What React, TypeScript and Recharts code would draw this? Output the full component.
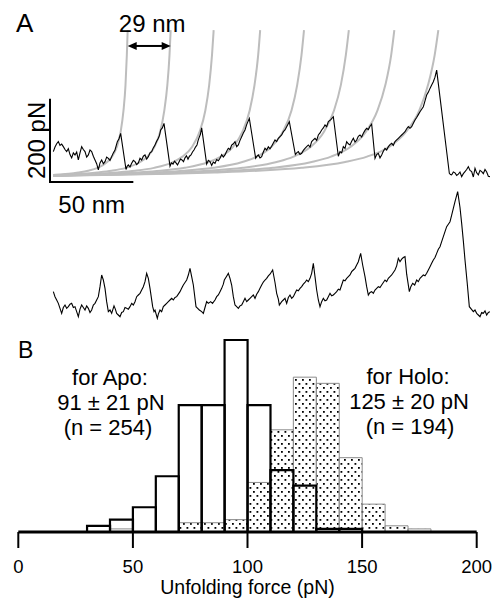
import { Bar, ComposedChart, Line, LineChart, ReferenceLine, XAxis, YAxis } from "recharts"

const FONT = "'Liberation Sans', Arial, Helvetica, sans-serif"

type Pt = [number, number]

// Panel A, upper trace: extension (nm), force (pN)
const traceTop: Pt[] = [
  [2, 73], [3, 84], [4, 92], [5, 97], [6, 88], [7, 91], [8, 85], [9, 78], [10, 73], [11, 80], [12, 66], [13, 58], [14, 70], [15, 65],
  [16, 72], [17, 53], [18, 70], [19, 85], [20, 78], [21, 73], [22, 60], [23, 65], [24, 77], [25, 73], [26, 62], [27, 53], [28, 44],
  [29, 29], [30, 46], [31, 53], [32, 44], [33, 49], [34, 60], [35, 57], [36, 52], [37, 61], [38, 70], [39, 77], [40.4, 97], [41.4, 104],
  [42.4, 117],
  [45.6, 30], [46.3, 38], [47, 41], [48, 36], [49, 45], [50, 52], [51, 49], [52, 42], [53, 46], [54, 57], [55, 53], [56, 62], [57, 65],
  [58, 55], [59, 61], [60, 70], [61, 73], [62, 82], [63, 89], [64, 98], [65, 105], [65.7, 112], [66.4, 125], [67.4, 130], [68.4, 141],
  [72, 38], [72.9, 46], [73.8, 43], [74.7, 50], [75.6, 46], [76.5, 41], [77.4, 48], [78.3, 55], [79.2, 53], [80.1, 49], [81, 58],
  [81.9, 63], [82.8, 55], [83.7, 62], [84.6, 65], [85.5, 72], [86.4, 77], [87.3, 84], [88.2, 89], [88.8, 99], [89.4, 106], [90.2, 114],
  [91, 130],
  [94, 43], [95, 52], [96, 49], [97, 40], [98, 48], [99, 45], [100, 54], [101, 51], [102, 57], [103, 66], [104, 60], [105, 65], [106, 74],
  [107, 81], [108, 78], [109, 89], [110, 92], [111, 97], [112, 85], [113, 89], [114, 100], [115, 109], [116, 118], [117, 125], [118, 138],
  [119.6, 153],
  [123.4, 57], [124.2, 62], [125, 65], [126, 58], [127, 61], [128, 72], [129, 81], [130, 77], [131, 85], [132, 80], [133, 86], [134, 94],
  [135, 101], [136, 97], [137, 105], [138, 109], [139, 113], [140, 121], [141, 125], [142, 133], [143.6, 145],
  [147.2, 66], [148, 70], [149, 73], [150, 66], [151, 69], [152, 76], [153, 81], [154, 85], [155, 89], [156, 84], [157, 97], [158, 101],
  [159, 105], [160, 100], [161, 113], [162, 118], [163, 125], [164, 130], [165, 137], [166, 133], [167, 145], [168.5, 150], [170, 157],
  [173, 62], [174, 73], [175, 70], [176, 85], [177, 81], [178, 97], [179, 92], [180, 89], [181, 98], [182, 105], [183, 96], [184, 101],
  [185, 110], [186, 113], [187, 108], [188, 117], [189, 124], [190, 129], [191, 126], [192, 134], [193, 139],
  [195, 57], [196, 66], [197, 69], [198, 58], [199, 65], [200, 74], [201, 81], [202, 77], [203, 85], [204, 90], [205, 93], [206, 88],
  [207, 97], [208, 101], [209, 105], [210, 109], [211, 113], [212, 117], [213, 121], [214, 128], [215, 133], [216, 129], [217, 133],
  [218, 141], [219, 149], [220, 155], [221, 162], [222, 169], [223, 175], [224, 181], [225, 195], [226, 209], [227, 216], [228, 225],
  [229, 233], [230, 241], [231, 252], [232, 269],
  [239.6, 21], [240.3, 18], [241, 17], [242, 24], [243, 22], [244, 16], [245, 19], [246, 24], [247, 13], [248, 20], [249, 25], [250, 30],
  [251, 37], [252, 28], [253, 25], [254, 12], [255, 33], [256, 22], [257, 17], [258, 28], [259, 25], [260, 20], [261, 30], [262, 24],
  [263, 14], [264, 13],
]

// Panel A, worm-like-chain fits (grey), one per unfolding event
const wlc1: Pt[] = [[2, 17], [5.5, 18], [11.3, 20], [17.0, 23], [22.8, 27], [28.6, 34], [34.3, 48], [37.2, 61], [40.1, 84], [42.4, 121], [44.1, 172], [45.3, 233], [46.1, 305], [46.6, 365]]
const wlc2: Pt[] = [[2, 16], [11.2, 18], [19.7, 20], [28.3, 23], [36.9, 27], [45.5, 34], [54.1, 48], [58.4, 61], [62.6, 84], [66.1, 121], [68.6, 172], [70.4, 233], [71.7, 305], [72.4, 365]]
const wlc3: Pt[] = [[2, 15], [16.8, 18], [28.2, 20], [39.6, 23], [51.0, 27], [62.4, 34], [73.8, 48], [79.5, 61], [85.2, 84], [89.8, 121], [93.2, 172], [95.5, 233], [97.2, 305], [98.2, 365]]
const wlc4: Pt[] = [[2, 15], [22.9, 18], [37.4, 20], [51.8, 23], [66.3, 27], [80.8, 34], [95.2, 48], [102.5, 61], [109.7, 84], [115.5, 121], [119.8, 172], [122.7, 233], [124.9, 305], [126.1, 365]]
const wlc5: Pt[] = [[2, 15], [28.7, 18], [46.0, 20], [63.4, 23], [80.7, 27], [98.0, 34], [115.4, 48], [124.1, 61], [132.7, 84], [139.7, 121], [144.9, 172], [148.3, 233], [150.9, 305], [152.4, 365]]
const wlc6: Pt[] = [[2, 15], [34.6, 18], [54.8, 20], [75.1, 23], [95.4, 27], [115.7, 34], [136.0, 48], [146.1, 61], [156.2, 84], [164.4, 121], [170.4, 172], [174.5, 233], [177.5, 305], [179.3, 365]]
const wlc7: Pt[] = [[2, 15], [40.6, 18], [63.8, 20], [87.1, 23], [110.4, 27], [133.7, 34], [157.0, 48], [168.6, 61], [180.2, 84], [189.6, 121], [196.5, 172], [201.2, 233], [204.7, 305], [206.6, 365]]
const wlc8: Pt[] = [[2, 15], [46.3, 18], [72.5, 20], [98.6, 23], [124.8, 27], [151.0, 34], [177.1, 48], [190.2, 61], [203.3, 84], [213.7, 121], [221.6, 172], [226.8, 233], [230.8, 305], [233.0, 365]]
const wlcCurves = [wlc1, wlc2, wlc3, wlc4, wlc5, wlc6, wlc7, wlc8]

// Panel A, lower trace
const traceBottom: Pt[] = [
  [2, 68], [3, 56], [4, 48], [5, 40], [6, 28], [7, 16], [8, 30], [9, 36], [10, 28], [11, 32], [12, 38], [13, 40], [14, 30], [15, 32],
  [16, 20], [17, 8], [18, 26], [19, 36], [20, 30], [21, 24], [22, 34], [23, 28], [24, 18], [25, 24], [26, 36], [27, 40], [28, 48],
  [29, 56], [30, 80], [31, 108], [32, 96], [33, 76], [34, 44], [35, 20], [36, 24], [37, 16], [38.4, 34], [39.2, 26], [40, 16], [41, 12],
  [42, 8], [43, 18], [44, 20], [45, 30], [46, 28], [47, 26], [48, 32], [49, 40], [50, 36], [51, 44], [52, 56], [53, 60], [54, 64],
  [55, 72], [56, 80], [57, 92], [58, 112], [59, 100], [60, 76], [61.6, 32], [62.4, 20], [63, 24], [64.4, 4], [65, 14], [66, 24],
  [67, 20], [68, 32], [69, 36], [70, 40], [71, 44], [72, 48], [73, 52], [74, 48], [75, 54], [76, 56], [77, 62], [78, 68], [79, 76],
  [80, 84], [81, 90], [82, 96], [83, 108], [84, 124], [85, 104], [86, 84], [87.6, 32], [88.6, 28], [89.6, 24], [91, 20], [92, 16],
  [93, 30], [94, 44], [95, 40], [96.4, 44], [97.5, 40], [99, 48], [100, 56], [101, 60], [102, 68], [103, 76], [104, 86], [104.6, 96],
  [105.8, 104], [107, 112], [108, 100], [109, 84], [110, 56], [111, 36], [112, 32], [113, 28], [114, 34], [115, 36], [116, 44],
  [117, 52], [118, 44], [119, 48], [120, 52], [121, 56], [122, 60], [123, 52], [124, 62], [125, 68], [126, 76], [127, 84], [128, 91],
  [129, 96], [130, 100], [131, 106], [132, 110], [133.6, 120], [135, 90], [136, 64], [137, 50], [137.6, 36], [139, 44], [140, 48],
  [141, 52], [142, 40], [143, 54], [144, 60], [145, 52], [146, 56], [147, 64], [148, 72], [149, 70], [150, 76], [151, 80], [152, 86],
  [153, 90], [154, 96], [155, 92], [156, 100], [157, 112], [158, 136], [159, 104], [160, 72], [161, 48], [162, 32], [163, 44], [164, 52],
  [165, 46], [166, 48], [167, 56], [168, 64], [169, 58], [170, 60], [171, 64], [172, 68], [173, 74], [174, 72], [175, 84], [176, 96],
  [177, 94], [178, 100], [179, 104], [180, 108], [181, 116], [182, 120], [183, 124], [184, 132], [185, 140], [186.4, 160], [187.6, 132],
  [189, 104], [190, 80], [191, 60], [192, 66], [193, 68], [194, 64], [195, 72], [196, 76], [197, 80], [198, 78], [199, 84], [200, 90],
  [201, 96], [202, 92], [203, 100], [204, 104], [205, 108], [206, 114], [207, 120], [208, 130], [209, 148], [210, 140], [211, 146],
  [212, 150], [213, 152], [214, 110], [215.6, 68], [216.5, 80], [217.6, 88], [218.8, 84], [220, 96], [221, 92], [222, 100], [223, 104],
  [224, 108], [225, 106], [226, 112], [227, 120], [228, 128], [229, 136], [230, 144], [231, 150], [232, 160], [233, 170], [234, 176],
  [235, 188], [236, 200], [237, 212], [238, 224], [239, 230], [240, 236], [241, 252], [242, 268], [243, 284], [244.6, 308], [246, 270],
  [247, 232], [248, 190], [249, 144], [250.3, 90], [251.6, 32], [252.8, 26], [254, 20], [255, 24], [256, 16], [257, 12], [258, 8],
  [259, 18], [260, 16], [261, 22], [262, 12], [263, 18], [264, 20],
]

// Panel B: 10 pN bins (centres), counts
const binMid = [35, 45, 55, 65, 75, 85, 95, 105, 115, 125, 135, 145, 155, 165, 175]
const apoCounts = [2, 4, 8, 18, 41, 41, 62, 41, 20, 15, 1, 1, 0, 0, 0]
const holoCounts = [0, 1, 0, 0, 3, 3, 4, 16, 33, 50, 48, 24, 9, 2, 1]
const forceTicks = [0, 50, 100, 150, 200]

const histData = binMid.map((mid, i) => ({ mid, apo: apoCounts[i], holo: holoCounts[i] }))
const toXY = (pts: Pt[]) => pts.map(([x, y]) => ({ x, y }))

const textStyle = { fontFamily: FONT, fill: "#000" }

function VerticalScale(p: any) {
  const cx = p.x1 - 5
  const cy = (p.y1 + p.y2) / 2
  return (
    <g>
      <line x1={p.x1} y1={p.y1} x2={p.x2} y2={p.y2} stroke="#000" strokeWidth={2} />
      <text x={cx} y={cy} transform={`rotate(-90 ${cx} ${cy})`} textAnchor="middle" fontSize={24} style={textStyle}>
        200 pN
      </text>
    </g>
  )
}

function HorizontalScale(p: any) {
  return (
    <g>
      <line x1={p.x1 - 1} y1={p.y1} x2={p.x2} y2={p.y2} stroke="#000" strokeWidth={2} />
      <text x={(p.x1 + p.x2) / 2} y={p.y1 + 31} textAnchor="middle" fontSize={24} style={textStyle}>
        50 nm
      </text>
    </g>
  )
}

function SpacingArrow(p: any) {
  const y = p.y1
  const a = 8
  const h = 4
  return (
    <g>
      <line x1={p.x1 + a} y1={y} x2={p.x2 - a} y2={y} stroke="#000" strokeWidth={2} />
      <polygon points={`${p.x1},${y} ${p.x1 + a + 1},${y - h} ${p.x1 + a + 1},${y + h}`} fill="#000" />
      <polygon points={`${p.x2},${y} ${p.x2 - a - 1},${y - h} ${p.x2 - a - 1},${y + h}`} fill="#000" />
      <text x={(p.x1 + p.x2) / 2 + 3} y={y - 14} textAnchor="middle" fontSize={24} style={textStyle}>
        29 nm
      </text>
    </g>
  )
}

function AxisTitle(props: any) {
  const vb = props.viewBox
  return (
    <text x={vb.x + vb.width / 2} y={vb.y + vb.height} textAnchor="middle" fontSize={19.5} style={textStyle}>
      Unfolding force (pN)
    </text>
  )
}

export default function App() {
  return (
    <div style={{ position: "absolute", left: 0, top: 0, width: 494, height: 600, background: "#fff" }}>
      <svg width={0} height={0} style={{ position: "absolute" }}>
        <defs>
          <pattern id="dots" width={7} height={8} patternUnits="userSpaceOnUse">
            <rect x={1} y={1} width={1.8} height={1.8} fill="#000" />
            <rect x={4.5} y={5} width={1.8} height={1.8} fill="#000" />
          </pattern>
        </defs>
      </svg>

      <div style={{ position: "absolute", left: 0, top: 0 }}>
        <LineChart width={494} height={230} margin={{ top: 0, right: 4, bottom: 48, left: 50 }}>
          <XAxis type="number" dataKey="x" domain={[0, 264]} hide allowDataOverflow />
          <YAxis type="number" domain={[0, 437.5]} hide allowDataOverflow />
          {wlcCurves.map((c, i) => (
            <Line
              key={i}
              data={toXY(c)}
              dataKey="y"
              type="monotone"
              stroke="#bdbdbd"
              strokeWidth={2}
              dot={false}
              activeDot={false}
              isAnimationActive={false}
            />
          ))}
          <Line
            data={toXY(traceTop)}
            dataKey="y"
            type="linear"
            stroke="#000"
            strokeWidth={1.1}
            dot={false}
            activeDot={false}
            isAnimationActive={false}
          />
          <ReferenceLine segment={[{ x: 0, y: 0 }, { x: 0, y: 200 }]} ifOverflow="visible" shape={VerticalScale} />
          <ReferenceLine segment={[{ x: 0, y: 0 }, { x: 50, y: 0 }]} ifOverflow="visible" shape={HorizontalScale} />
          <ReferenceLine segment={[{ x: 46.6, y: 327 }, { x: 72.4, y: 327 }]} ifOverflow="visible" shape={SpacingArrow} />
        </LineChart>
      </div>

      <div style={{ position: "absolute", left: 0, top: 180 }}>
        <LineChart width={494} height={145} margin={{ top: 6.7, right: 4, bottom: 5, left: 50 }}>
          <XAxis type="number" dataKey="x" domain={[0, 264]} hide allowDataOverflow />
          <YAxis type="number" domain={[0, 320]} hide allowDataOverflow />
          <Line
            data={toXY(traceBottom)}
            dataKey="y"
            type="linear"
            stroke="#000"
            strokeWidth={1.1}
            dot={false}
            activeDot={false}
            isAnimationActive={false}
          />
        </LineChart>
      </div>

      <div style={{ position: "absolute", left: 0, top: 330 }}>
        <ComposedChart
          width={494}
          height={270}
          data={histData}
          barCategoryGap={0}
          barGap={0}
          margin={{ top: 3.8, right: 17.3, bottom: 6, left: 18.3 }}
        >
          <XAxis
            xAxisId="apo"
            type="number"
            dataKey="mid"
            domain={[0, 200]}
            ticks={forceTicks}
            interval={0}
            height={62}
            tickSize={16}
            tickMargin={12}
            axisLine={{ stroke: "#000", strokeWidth: 3 }}
            tickLine={{ stroke: "#000", strokeWidth: 2 }}
            tick={{ fill: "#000", fontSize: 18.5, fontFamily: FONT }}
            label={{ content: AxisTitle }}
          />
          <XAxis xAxisId="holo" type="number" dataKey="mid" domain={[0, 200]} hide />
          <YAxis type="number" domain={[0, 64]} hide allowDataOverflow />
          <Bar
            xAxisId="holo"
            dataKey="holo"
            fill="url(#dots)"
            stroke="#8c8c8c"
            strokeWidth={1}
            isAnimationActive={false}
          />
          <Bar
            xAxisId="apo"
            dataKey="apo"
            fill="none"
            stroke="#000"
            strokeWidth={2.2}
            isAnimationActive={false}
          />
        </ComposedChart>
      </div>

      <svg width={494} height={600} style={{ position: "absolute", left: 0, top: 0, pointerEvents: "none" }}>
        <g style={textStyle}>
          <text x={16} y={32} fontSize={26}>A</text>
          <text x={18} y={358} fontSize={23}>B</text>
          <g fontSize={22} textAnchor="middle">
            <text x={110} y={385}>for Apo:</text>
            <text x={111} y={410}>91 ± 21 pN</text>
            <text x={108} y={435}>(n = 254)</text>
            <text x={408} y={384}>for Holo:</text>
            <text x={409} y={409}>125 ± 20 pN</text>
            <text x={410} y={434}>(n = 194)</text>
          </g>
        </g>
      </svg>
    </div>
  )
}
